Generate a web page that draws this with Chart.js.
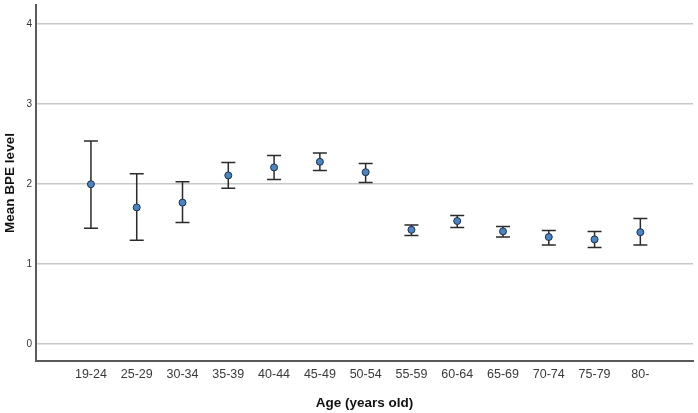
<!DOCTYPE html>
<html>
<head>
<meta charset="utf-8">
<script src="https://cdn.jsdelivr.net/npm/chart.js@4/dist/chart.umd.min.js"></script>
<style>
  html, body { margin: 0; padding: 0; background: #fff; }
</style>
</head>
<body>
<canvas id="chart" width="698" height="413"></canvas>
<script>
const ageGroups = ['19-24', '25-29', '30-34', '35-39', '40-44', '45-49', '50-54',
  '55-59', '60-64', '65-69', '70-74', '75-79', '80-']
const meanBPE = [2.00, 1.71, 1.77, 2.11, 2.21, 2.28, 2.15, 1.43, 1.54, 1.41, 1.34, 1.31, 1.40]
const upperCI = [2.54, 2.13, 2.03, 2.27, 2.36, 2.39, 2.26, 1.49, 1.61, 1.47, 1.42, 1.41, 1.57]
const lowerCI = [1.45, 1.30, 1.52, 1.95, 2.06, 2.17, 2.02, 1.36, 1.46, 1.34, 1.24, 1.21, 1.24]
const yTicks = [0, 1, 2, 3, 4]

const points = meanBPE.map((v, i) => ({ x: i, y: v }))

// draw the CI whiskers under the points
const errorBars = {
  id: 'errorBars',
  beforeDatasetsDraw (chart) {
    const ctx = chart.ctx
    const xs = chart.scales.x
    const ys = chart.scales.y
    ctx.save()
    ctx.strokeStyle = '#2b2b2b'
    ctx.lineWidth = 1.5
    meanBPE.forEach((m, i) => {
      const px = xs.getPixelForValue(i)
      const top = ys.getPixelForValue(upperCI[i])
      const bot = ys.getPixelForValue(lowerCI[i])
      ctx.beginPath()
      ctx.moveTo(px, top)
      ctx.lineTo(px, bot)
      ctx.moveTo(px - 7, top)
      ctx.lineTo(px + 7, top)
      ctx.moveTo(px - 7, bot)
      ctx.lineTo(px + 7, bot)
      ctx.stroke()
    })
    ctx.restore()
  }
}

new Chart(document.getElementById('chart'), {
  type: 'scatter',
  data: {
    datasets: [{
      label: 'Mean BPE level',
      data: points,
      pointRadius: 3.5,
      pointBackgroundColor: '#4a84c2',
      pointBorderColor: '#1c2f4a',
      pointBorderWidth: 1
    }]
  },
  options: {
    responsive: false,
    animation: false,
    layout: { padding: { top: 3, right: 0, left: 0, bottom: 0 } },
    plugins: {
      legend: { display: false },
      tooltip: { enabled: false }
    },
    scales: {
      x: {
        type: 'linear',
        min: -1.2,
        max: 13.15,
        afterBuildTicks: (scale) => {
          scale.ticks = ageGroups.map((_, i) => ({ value: i }))
        },
        afterFit: (scale) => {
          scale.height = 52
          scale.paddingLeft = 0
          scale.paddingRight = 0
        },
        ticks: {
          callback: (v) => ageGroups[v],
          color: '#3a3a3a',
          font: { family: 'Arial, "Liberation Sans"', size: 12.5 },
          maxRotation: 0,
          autoSkip: false,
          padding: 6
        },
        grid: { display: false, drawTicks: false },
        border: { display: true, color: '#5a5a5a', width: 2 },
        title: {
          display: true,
          text: 'Age (years old)',
          color: '#111',
          font: { family: 'Arial, "Liberation Sans"', size: 13.5, weight: 'bold' },
          padding: { top: 0, bottom: 2 }
        }
      },
      y: {
        min: -0.21,
        max: 4.24,
        afterBuildTicks: (scale) => {
          scale.ticks = yTicks.map(v => ({ value: v }))
        },
        afterFit: (scale) => {
          scale.width = 36
          scale.paddingTop = 0
          scale.paddingBottom = 0
        },
        ticks: {
          color: '#333',
          font: { family: 'Arial, "Liberation Sans"', size: 10 },
          padding: 4
        },
        grid: { color: '#c8c8c8', lineWidth: 1.5, drawTicks: false },
        border: { display: true, color: '#5a5a5a', width: 2 },
        title: {
          display: true,
          text: 'Mean BPE level',
          color: '#111',
          font: { family: 'Arial, "Liberation Sans"', size: 13.5, weight: 'bold' },
          padding: { top: 2, bottom: 0 }
        }
      }
    }
  },
  plugins: [errorBars]
})
</script>
</body>
</html>
